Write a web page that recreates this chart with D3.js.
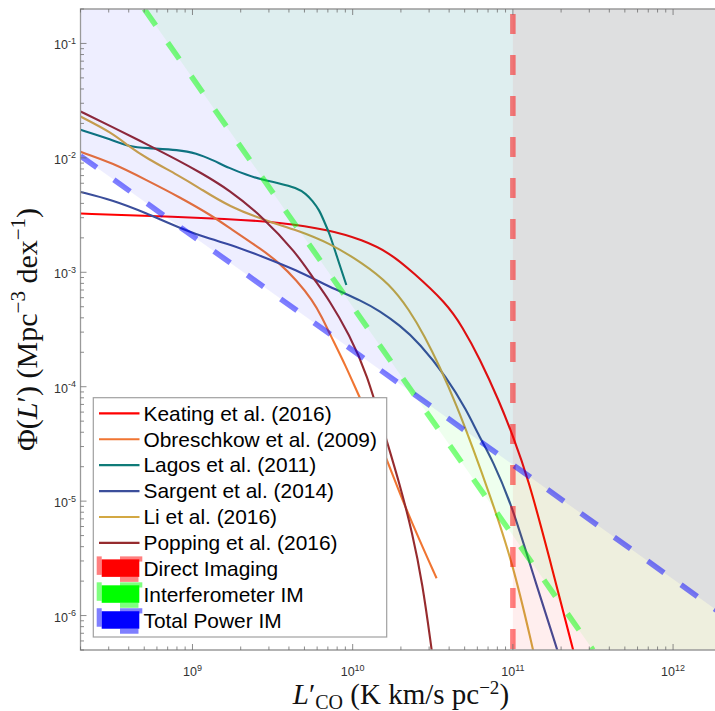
<!DOCTYPE html>
<html>
<head>
<meta charset="utf-8">
<script src="https://cdn.jsdelivr.net/npm/d3@7"></script>
<style>
  body { margin: 0; background: #fff; }
  svg { display: block; }
</style>
</head>
<body>
<svg id="chart" width="715" height="711"></svg>
<script>
// Axis extents and tick decades
const xDomain = [2e8, 2e12];
const yDomain = [5e-7, 0.2];
const xMajorTicks = [1e9, 1e10, 1e11, 1e12];
const yMajorTicks = [1e-6, 1e-5, 1e-4, 1e-3, 1e-2, 1e-1];

// CO luminosity functions, L'_CO (K km/s pc^-2) vs Phi (Mpc^-3 dex^-1)
const keatingL   = [2.0e8, 5.36e8, 1.70e9, 3.48e9, 7.15e9, 1.15e10, 1.70e10, 2.36e10, 3.84e10, 4.85e10, 6.19e10, 8.26e10, 9.96e10, 1.24e11, 1.70e11, 2.36e11, 2.48e11];
const keatingPhi = [3.26e-3, 3.11e-3, 2.93e-3, 2.73e-3, 2.35e-3, 1.92e-3, 1.48e-3, 1.01e-3, 5.39e-4, 3.325e-4, 1.781e-4, 7.34e-5, 3.78e-5, 1.62e-5, 3.11e-6, 5.18e-7, 4.0e-7];

const obreschkowL   = [2.0e8, 3.15e8, 5.13e8, 8.26e8, 1.33e9, 1.70e9, 2.73e9, 3.48e9, 4.45e9, 5.60e9, 6.47e9, 7.15e9, 9.13e9, 1.10e10, 1.47e10, 1.96e10, 2.61e10, 3.34e10];
const obreschkowPhi = [1.129e-2, 9.05e-3, 6.42e-3, 4.56e-3, 3.11e-3, 2.443e-3, 1.568e-3, 1.207e-3, 8.57e-4, 5.73e-4, 3.99e-4, 2.95e-4, 1.486e-4, 8.12e-5, 3.42e-5, 1.174e-5, 4.56e-6, 2.12e-6];

const lagosL   = [2.0e8, 3.15e8, 4.02e8, 5.13e8, 8.26e8, 1.055e9, 1.33e9, 1.70e9, 2.17e9, 2.73e9, 3.48e9, 4.45e9, 5.14e9, 5.60e9, 6.19e9, 6.65e9, 7.15e9, 7.91e9, 9.13e9];
const lagosPhi = [1.758e-2, 1.437e-2, 1.256e-2, 1.216e-2, 1.175e-2, 1.10e-2, 9.61e-3, 8.13e-3, 7.10e-3, 6.42e-3, 6.01e-3, 5.47e-3, 4.84e-3, 4.21e-3, 3.51e-3, 2.756e-3, 2.208e-3, 1.418e-3, 7.74e-4];

const sargentL   = [2.0e8, 3.15e8, 5.13e8, 8.26e8, 1.33e9, 1.70e9, 2.73e9, 4.45e9, 7.15e9, 1.15e10, 1.47e10, 1.96e10, 2.61e10, 3.85e10, 5.14e10, 6.19e10, 7.47e10, 9.96e10, 1.33e11, 1.88e11, 1.99e11];
const sargentPhi = [5.04e-3, 4.29e-3, 3.30e-3, 2.443e-3, 1.918e-3, 1.769e-3, 1.370e-3, 1.048e-3, 7.44e-4, 5.61e-4, 4.59e-4, 3.46e-4, 2.41e-4, 1.215e-4, 6.25e-5, 3.63e-5, 2.28e-5, 8.86e-6, 2.34e-6, 5.18e-7, 4.0e-7];

const liL   = [2.0e8, 3.15e8, 4.02e8, 5.13e8, 8.26e8, 1.10e9, 1.70e9, 3.02e9, 4.45e9, 7.15e9, 1.15e10, 1.70e10, 2.26e10, 2.81e10, 3.48e10, 4.45e10, 5.60e10, 7.15e10, 9.96e10, 1.33e11, 1.386e11];
const liPhi = [2.298e-2, 1.656e-2, 1.256e-2, 1.0e-2, 6.96e-3, 5.47e-3, 3.73e-3, 2.756e-3, 2.346e-3, 1.805e-3, 1.207e-3, 7.91e-4, 4.68e-4, 2.77e-4, 1.516e-4, 6.91e-5, 2.97e-5, 1.151e-5, 2.93e-6, 5.18e-7, 4.0e-7];

const poppingL   = [2.0e8, 3.15e8, 5.13e8, 8.26e8, 1.10e9, 1.70e9, 2.73e9, 4.45e9, 5.60e9, 7.15e9, 9.54e9, 1.218e10, 1.624e10, 1.958e10, 2.361e10, 2.727e10, 3.104e10, 3.18e10];
const poppingPhi = [2.543e-2, 1.868e-2, 1.327e-2, 9.42e-3, 7.55e-3, 5.25e-3, 3.07e-3, 1.476e-3, 9.10e-4, 5.73e-4, 2.83e-4, 1.343e-4, 3.42e-5, 1.437e-5, 5.25e-6, 1.917e-6, 5.18e-7, 4.0e-7];

const modelNames  = ["Keating et al. (2016)", "Obreschkow et al. (2009)", "Lagos et al. (2011)", "Sargent et al. (2014)", "Li et al. (2016)", "Popping et al. (2016)"];
const modelColors = ["#ff0000", "#f07532", "#0f7b78", "#3b4e9b", "#d3a843", "#962b2e"];
const modelL   = [keatingL, obreschkowL, lagosL, sargentL, liL, poppingL];
const modelPhi = [keatingPhi, obreschkowPhi, lagosPhi, sargentPhi, liPhi, poppingPhi];

// Detection limits of the three survey strategies
const directL = [1e11, 1e11];
const directPhi = [0.2, 5e-7];
const interfL = [5.0e8, 3.162e11];
const interfPhi = [0.2, 5e-7];
const totalL = [2e8, 2e12];
const totalPhi = [1.04e-2, 1.04e-6];

const regimeNames  = ["Direct Imaging", "Interferometer IM", "Total Power IM"];
const regimeColors = ["#ff0000", "#00ff00", "#0000ff"];

// ---------------------------------------------------------------
const svg = d3.select("#chart");
const plot = { left: 80.5, right: 721.3, top: 9, bottom: 650 };

const x = d3.scaleLog().domain(xDomain).range([plot.left, plot.right]);
const y = d3.scaleLog().domain(yDomain).range([plot.bottom, plot.top]);

svg.append("defs").append("clipPath").attr("id", "plotClip")
  .append("rect")
  .attr("x", plot.left).attr("y", plot.top)
  .attr("width", plot.right - plot.left).attr("height", plot.bottom - plot.top);

const g = svg.append("g").attr("clip-path", "url(#plotClip)");

// model curves
const curve = d3.line().x(d => x(d[0])).y(d => y(d[1])).curve(d3.curveBasis);
modelL.forEach((Ls, i) => {
  g.append("path")
    .datum(d3.zip(Ls, modelPhi[i]))
    .attr("d", curve)
    .attr("fill", "none")
    .attr("stroke", modelColors[i])
    .attr("stroke-width", 2.1)
    .attr("stroke-linejoin", "round");
});

// shaded detectable regions (above / right of each limit)
const poly = d3.line().x(d => x(d[0])).y(d => y(d[1]));
const [xLo, xHi] = xDomain, [yLo, yHi] = yDomain;
const regions = [
  [[directL[0], yLo], [xHi, yLo], [xHi, yHi], [directL[1], yHi]],
  [[interfL[0], interfPhi[0]], [interfL[1], interfPhi[1]], [xHi, yLo], [xHi, yHi]],
  [[totalL[0], totalPhi[0]], [totalL[1], totalPhi[1]], [xHi, yHi], [xLo, yHi]]
];
regions.forEach((pts, i) => {
  g.append("path")
    .attr("d", poly(pts) + "Z")
    .attr("fill", regimeColors[i])
    .attr("fill-opacity", 0.066);
});

// dashed limit lines
const limits = [
  { L: directL, P: directPhi, offset: 36 },
  { L: interfL, P: interfPhi, offset: 0 },
  { L: totalL, P: totalPhi, offset: 0 }
];
limits.forEach((lim, i) => {
  g.append("path")
    .attr("d", poly(d3.zip(lim.L, lim.P)))
    .attr("fill", "none")
    .attr("stroke", regimeColors[i])
    .attr("stroke-opacity", 0.5)
    .attr("stroke-width", 5.5)
    .attr("stroke-dasharray", "20,21")
    .attr("stroke-dashoffset", lim.offset);
});

// ---------------------------------------------------------------
// axes (ticks pointing inward on all sides)
const axisColor = "#6e6e6e";
const labelColor = "#333";
const axes = svg.append("g");
const isMajor = v => Math.abs(Math.log10(v) - Math.round(Math.log10(v))) < 1e-9;

axes.append("path")
  .attr("d", `M${plot.left},${plot.bottom}V${plot.top}H${plot.right}V${plot.bottom}Z`)
  .attr("fill", "none").attr("stroke", "#9a9a9a").attr("stroke-width", 1.3);

x.ticks().forEach(v => {
  const len = isMajor(v) ? 6 : 3.5, px = x(v);
  axes.append("line").attr("x1", px).attr("x2", px).attr("y1", plot.bottom).attr("y2", plot.bottom - len)
    .attr("stroke", axisColor).attr("stroke-width", 0.8);
  axes.append("line").attr("x1", px).attr("x2", px).attr("y1", plot.top).attr("y2", plot.top + len)
    .attr("stroke", axisColor).attr("stroke-width", 0.8);
});
y.ticks().forEach(v => {
  const len = isMajor(v) ? 6 : 3.5, py = y(v);
  axes.append("line").attr("x1", plot.left).attr("x2", plot.left + len).attr("y1", py).attr("y2", py)
    .attr("stroke", axisColor).attr("stroke-width", 0.8);
});

const tickFont = "'Liberation Sans', Arial, Helvetica, sans-serif";
xMajorTicks.forEach(v => {
  const t = axes.append("text")
    .attr("x", x(v)).attr("y", 676)
    .attr("text-anchor", "middle")
    .attr("font-family", tickFont).attr("font-size", 12.5).attr("fill", labelColor);
  t.append("tspan").text("10");
  t.append("tspan").attr("dy", -5.5).attr("font-size", 9).text(String(Math.round(Math.log10(v))));
});
yMajorTicks.forEach(v => {
  const t = axes.append("text")
    .attr("x", 76).attr("y", y(v) + 6)
    .attr("text-anchor", "end")
    .attr("font-family", tickFont).attr("font-size", 12.5).attr("fill", labelColor);
  t.append("tspan").text("10");
  t.append("tspan").attr("dy", -5.5).attr("font-size", 9).text(String(Math.round(Math.log10(v))));
});

// axis titles
const serif = "'Liberation Serif', 'Times New Roman', serif";
const xt = svg.append("text")
  .attr("x", (plot.left + plot.right) / 2).attr("y", 703.5)
  .attr("text-anchor", "middle")
  .attr("font-family", serif).attr("font-size", 29).attr("fill", "#111");
xt.append("tspan").attr("font-style", "italic").text("L");
xt.append("tspan").text("′");
xt.append("tspan").attr("font-size", 20).attr("dy", 5).text("CO");
xt.append("tspan").attr("dy", -5).text(" (K km/s pc");
xt.append("tspan").attr("font-size", 19).attr("dy", -10).text("−2");
xt.append("tspan").attr("dy", 10).text(")");

const yt = svg.append("text")
  .attr("transform", `translate(37,${(plot.top + plot.bottom) / 2}) rotate(-90)`)
  .attr("text-anchor", "middle")
  .attr("font-family", serif).attr("font-size", 30).attr("fill", "#111");
yt.append("tspan").text("Φ(");
yt.append("tspan").attr("font-style", "italic").text("L");
yt.append("tspan").text("′) (Mpc");
yt.append("tspan").attr("font-size", 21).attr("dy", -12).text("−3");
yt.append("tspan").attr("dy", 12).text(" dex");
yt.append("tspan").attr("font-size", 21).attr("dy", -12).text("−1");
yt.append("tspan").attr("dy", 12).text(")");

// ---------------------------------------------------------------
// legend
const legend = svg.append("g");
const lg = { x: 93.3, y: 397.7, w: 293.4, h: 239.3, row0: 413.3, step: 25.93 };
legend.append("rect")
  .attr("x", lg.x).attr("y", lg.y).attr("width", lg.w).attr("height", lg.h)
  .attr("fill", "#fff").attr("stroke", "#a0a0a0").attr("stroke-width", 1.2);

const legendFont = "'Liberation Sans', Arial, Helvetica, sans-serif";
modelNames.forEach((name, i) => {
  const cy = lg.row0 + i * lg.step;
  legend.append("line").attr("x1", 99).attr("x2", 139.5).attr("y1", cy).attr("y2", cy)
    .attr("stroke", modelColors[i]).attr("stroke-width", 2.2);
  legend.append("text").attr("x", 143.5).attr("y", cy + 7.3)
    .attr("font-family", legendFont).attr("font-size", 20.9).attr("fill", "#000").text(name);
});
regimeNames.forEach((name, j) => {
  const cy = lg.row0 + (modelNames.length + j) * lg.step;
  const c = regimeColors[j];
  legend.append("rect").attr("x", 101.7).attr("y", cy - 9.5).attr("width", 37.6).attr("height", 17.5).attr("fill", c);
  [[96.7, cy - 12.5, 5, 18.5], [120, cy - 12.5, 22.3, 5.2], [120, cy + 8, 18.5, 5]].forEach(r => {
    legend.append("rect").attr("x", r[0]).attr("y", r[1]).attr("width", r[2]).attr("height", r[3])
      .attr("fill", c).attr("fill-opacity", 0.5);
  });
  legend.append("text").attr("x", 143.5).attr("y", cy + 7.3)
    .attr("font-family", legendFont).attr("font-size", 20.9).attr("fill", "#000").text(name);
});
</script>
</body>
</html>
